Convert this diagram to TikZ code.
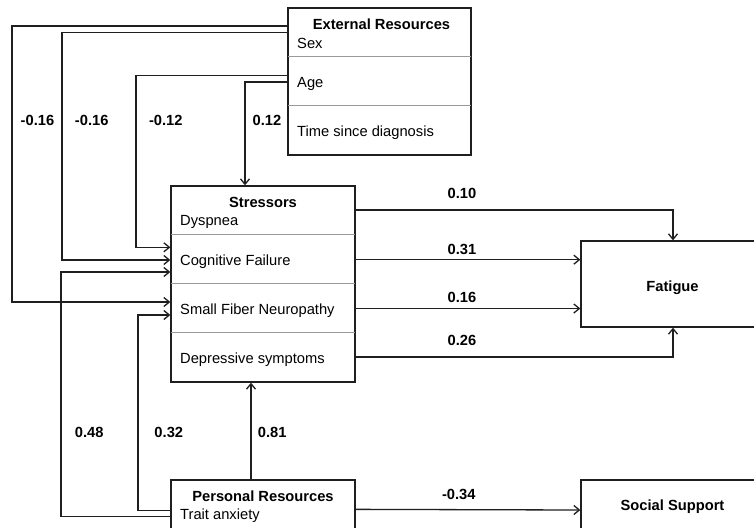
\documentclass[tikz,border=0pt]{standalone}
\usepackage{fontspec}
\setmainfont{Liberation Sans}
\usetikzlibrary{arrows.meta}
\begin{document}
\begin{tikzpicture}[x=1pt,y=-1pt,
  font=\fontsize{14.7}{17}\selectfont,
  box/.style={draw=black!88, line width=1.3pt, rectangle, inner sep=0pt},
  div/.style={draw=black!40, line width=1pt},
  arr/.style={draw=black!88, line width=1.3pt, -{Straight Barb[length=5.5pt,width=9pt]}},
  txt/.style={anchor=base west, inner sep=0pt},
  ttl/.style={anchor=base, inner sep=0pt, font=\fontsize{14.7}{17}\selectfont\bfseries},
  lbl/.style={anchor=base, inner sep=0pt, font=\fontsize{14.7}{17}\selectfont\bfseries}]
\useasboundingbox (0,0) rectangle (754,527);
\fill[white] (0,0) rectangle (754,527);
\clip (0,0) rectangle (754,527);

% boxes
\node[box, minimum width=183pt, minimum height=147pt] (er) at (379.5,81.5) {};
\node[box, minimum width=184pt, minimum height=196pt] (st) at (263,284) {};
\node[box, minimum width=184pt, minimum height=86pt] (fa) at (673,284) {};
\node[box, minimum width=184pt, minimum height=70pt] (pr) at (263,515) {};
\node[box, minimum width=184pt, minimum height=50pt] (ss) at (673,505) {};

% dividers
\draw[div] ([xshift=0.6pt,yshift=-49.5pt]er.north west) -- ([xshift=-0.6pt,yshift=-49.5pt]er.north east);
\draw[div] ([xshift=0.6pt,yshift=-98.5pt]er.north west) -- ([xshift=-0.6pt,yshift=-98.5pt]er.north east);
\draw[div] ([xshift=0.6pt,yshift=-49pt]st.north west) -- ([xshift=-0.6pt,yshift=-49pt]st.north east);
\draw[div] ([xshift=0.6pt,yshift=-98.3pt]st.north west) -- ([xshift=-0.6pt,yshift=-98.3pt]st.north east);
\draw[div] ([xshift=0.6pt,yshift=-147.3pt]st.north west) -- ([xshift=-0.6pt,yshift=-147.3pt]st.north east);

% texts
\node[ttl] (erT) at (381.5,29.3) {External Resources};
\node[txt] (erA) at (297,48.3) {Sex};
\node[txt] (erB) at (297,87.3) {Age};
\node[txt] (erC) at (297,136) {Time since diagnosis};

\node[ttl] (stT) at (263,207.3) {Stressors};
\node[txt] (stA) at (180,225.3) {Dyspnea};
\node[txt] (stB) at (180,265.3) {Cognitive Failure};
\node[txt] (stC) at (180,314.3) {Small Fiber Neuropathy};
\node[txt] (stD) at (180,363.3) {Depressive symptoms};

\node[ttl] (faT) at (672.5,291) {Fatigue};
\node[ttl] (prT) at (263,501) {Personal Resources};
\node[txt] (prA) at (180,519) {Trait anxiety};
\node[ttl] (ssT) at (672.5,510.5) {Social Support};

% connectors from External Resources
\draw[arr] ([yshift=-18.7pt]er.north west) -| (12,302) -- (st.west |- 0,302);
\draw[arr] ([yshift=-25pt]er.north west) -| (62,260) -- (st.west |- 0,260);
\draw[arr] ([yshift=-68pt]er.north west) -| (136,247.3) -- (st.west |- 0,247.3);
\draw[arr] ([yshift=-74.5pt]er.north west) -| ([xshift=-18pt]st.north);

% connectors from Personal Resources
\draw[arr] ([yshift=-37pt]pr.north west) -| (61,272) -- (st.west |- 0,272);
\draw[arr] ([yshift=-31pt]pr.north west) -| (138,315) -- (st.west |- 0,315);
\draw[arr] ([xshift=-12pt]pr.north) -- ([xshift=-12pt]st.south);
\draw[arr] ([yshift=-30pt]pr.north east) -- (ss.west |- 0,510);

% connectors to Fatigue
\draw[arr] ([yshift=-24.7pt]st.north east) -| (fa.north);
\draw[arr] (st.east |- 0,259.7) -- (fa.west |- 0,259.7);
\draw[arr] (st.east |- 0,308.5) -- (fa.west |- 0,308.5);
\draw[arr] (st.east |- 0,357) -| (fa.south);

% coefficient labels
\node[lbl] (l1) at (37.5,125.7) {-0.16};
\node[lbl] (l2) at (91.7,125.7) {-0.16};
\node[lbl] (l3) at (165.8,125.7) {-0.12};
\node[lbl] (l4) at (267,125.7) {0.12};
\node[lbl] (l5) at (89.2,437.3) {0.48};
\node[lbl] (l6) at (168.8,437.3) {0.32};
\node[lbl] (l7) at (272.2,437.3) {0.81};
\node[lbl] (l8) at (458.8,499.3) {-0.34};
\node[lbl] (l9) at (462,198.3) {0.10};
\node[lbl] (l10) at (462,254) {0.31};
\node[lbl] (l11) at (462,302.7) {0.16};
\node[lbl] (l12) at (462,345.7) {0.26};
\end{tikzpicture}
\end{document}
